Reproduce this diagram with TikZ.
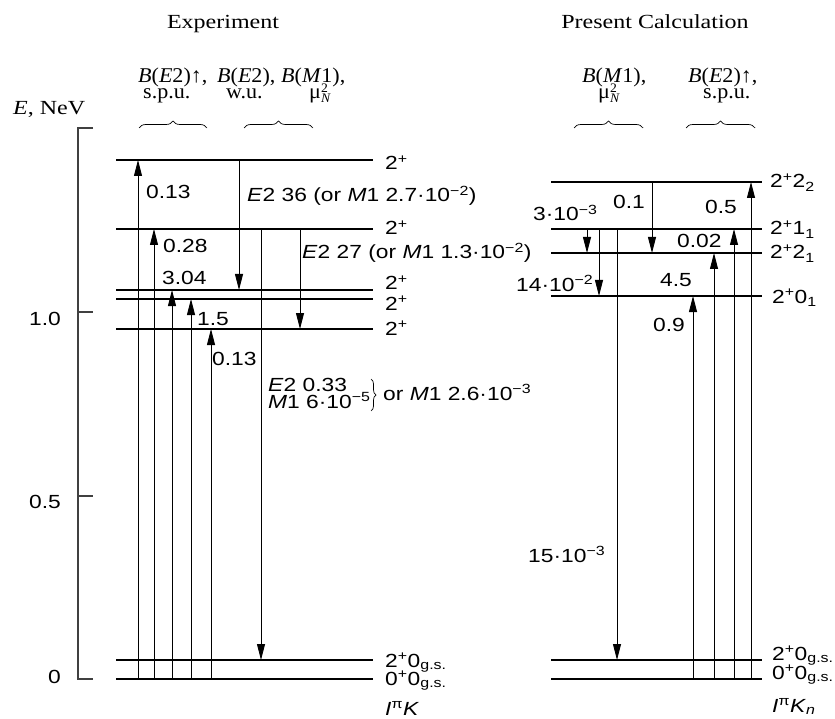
\documentclass[tikz,border=0pt]{standalone}
\usepackage{fontspec}
\setmainfont{Liberation Sans}[FakeStretch=1.2]
\newfontfamily\hdfont{Liberation Serif}[FakeStretch=1.05]
\newfontfamily\ttlfont{Liberation Serif}[FakeStretch=1.2]
\usetikzlibrary{arrows.meta,decorations.pathreplacing}
\colorlet{axisC}{black!75}
\newcommand{\up}[1]{\textsuperscript{#1}}
\newcommand{\dn}[1]{\textsubscript{#1}}
\newcommand{\numsize}{\fontsize{19}{22}\selectfont}
\newcommand{\hdsize}{\hdfont\fontsize{21}{24}\selectfont}
\newcommand{\ttlsize}{\ttlfont\fontsize{20}{23}\selectfont}
\newcommand{\muN}{μ\rlap{\raisebox{6pt}{\fontsize{13}{13}\selectfont 2}}%
  \raisebox{-4pt}{\fontsize{13}{13}\selectfont\itshape N}}

\begin{document}
\begin{tikzpicture}[x=1pt, y=-1pt,
    lvl/.style={line width=1.2pt},
    tr/.style={line width=0.9pt, -{Triangle[length=16pt,width=8pt]}},
    num/.style={font=\numsize, inner sep=0pt, anchor=base west},
    hd/.style={font=\hdsize, inner sep=0pt, anchor=base west},
    ttl/.style={font=\ttlsize, inner sep=0pt, anchor=base},
    brc/.style={decorate, decoration={brace, amplitude=7pt}, line width=0.7pt}]

  \useasboundingbox (0,0) rectangle (835,719);

  % Energy axis
  \draw[axisC, line width=1.2pt] (93,128) -- (78,128) -- (78,679) -- (93,679);
  \foreach \y in {312,496}
    \draw[axisC, line width=1.2pt] (78,\y) -- (93,\y);
  \node[ttl, anchor=base west] (axE) at (13,115) {\textit{E}, NeV};
  \node[num, anchor=base east] (ax1) at (61,325) {1.0};
  \node[num, anchor=base east] (ax5) at (61,508) {0.5};
  \node[num, anchor=base east] (ax0) at (61,683) {0};

  % Headings
  \node[ttl] (hExp) at (223,29) {Experiment};
  \node[ttl] (hCalc) at (655,29) {Present Calculation};

  \node[hd] (hA1) at (138,83) {\textit{B}(\textit{E}2)↑,};
  \node[hd] (hA2) at (143,99) {s.p.u.};
  \node[hd] (hB1) at (217,83) {\textit{B}(\textit{E}2),};
  \node[hd] (hB2) at (226,99) {w.u.};
  \node[hd] (hC1) at (281,83) {\textit{B}(\textit{M}1),};
  \node[hd] (hC2) at (309,99) {\muN};
  \node[hd] (hD1) at (582,83) {\textit{B}(\textit{M}1),};
  \node[hd] (hD2) at (598,99) {\muN};
  \node[hd] (hE1) at (688,83) {\textit{B}(\textit{E}2)↑,};
  \node[hd] (hE2) at (703,99) {s.p.u.};

  \draw[brc] (139,128) -- (207,128);
  \draw[brc] (244,128) -- (313,128);
  \draw[brc] (574,128) -- (643,128);
  \draw[brc] (686,128) -- (755,128);

  % Experiment levels
  \foreach \n/\y in {a/160, b/229, c/290, d/299, e/329, g/660, o/679} {
    \coordinate (X\n) at (116,\y);
    \draw[lvl] (X\n) -- +(257,0);
  }
  \node[num] (sXa) at (385,170) {2\up{+}};
  \node[num] (sXb) at (385,235) {2\up{+}};
  \node[num] (sXc) at (385,290) {2\up{+}};
  \node[num] (sXd) at (385,310) {2\up{+}};
  \node[num] (sXe) at (385,335) {2\up{+}};
  \node[num] (sXg) at (385,667) {2\up{+}0\dn{g.s.}};
  \node[num] (sXo) at (385,685) {0\up{+}0\dn{g.s.}};
  \node[num] (sX) at (385,715) {\textit{I}\up{π}\textit{K}};

  % Experiment transitions
  \foreach \x/\t in {138/a, 154/b, 172/c, 191/d, 211/e} {
    \coordinate (k\t) at (\x,0);
    \draw[tr] (k\t |- Xo) -- (k\t |- X\t);
  }
  \coordinate (kf) at (239,0);
  \coordinate (kg) at (261,0);
  \coordinate (kh) at (300,0);
  \draw[tr] (kf |- Xa) -- (kf |- Xc);
  \draw[tr] (kg |- Xb) -- (kg |- Xg);
  \draw[tr] (kh |- Xb) -- (kh |- Xe);

  \node[num] (vXa) at (146,199) {0.13};
  \node[num] (vXb) at (163,253) {0.28};
  \node[num] (vXc) at (162,285) {3.04};
  \node[num] (vXd) at (197,325) {1.5};
  \node[num] (vXe) at (212,365) {0.13};
  \node[num] (vXf) at (247,202) {\textit{E}2 36 (or \textit{M}1 2.7·10\up{−2})};
  \node[num] (vXh) at (302,259) {\textit{E}2 27 (or \textit{M}1 1.3·10\up{−2})};
  \node[num] (vXg1) at (268,391) {\textit{E}2 0.33};
  \node[num] (vXg2) at (268,408) {\textit{M}1 6·10\up{−5}};
  \draw[brc, decoration={amplitude=5pt}] (371,379) -- (371,411);
  \node[num] (vXg3) at (383,400) {or \textit{M}1 2.6·10\up{−3}};

  % Calculated levels
  \foreach \n/\y in {a/182, b/229, c/253, d/296, g/660, o/679} {
    \coordinate (Y\n) at (551,\y);
    \draw[lvl] (Y\n) -- +(211,0);
  }
  \node[num] (sYa) at (770,188) {2\up{+}2\dn{2}};
  \node[num] (sYb) at (770,235) {2\up{+}1\dn{1}};
  \node[num] (sYc) at (770,259) {2\up{+}2\dn{1}};
  \node[num] (sYd) at (772,303) {2\up{+}0\dn{1}};
  \node[num] (sYg) at (772,660) {2\up{+}0\dn{g.s.}};
  \node[num] (sYo) at (772,679) {0\up{+}0\dn{g.s.}};
  \node[num] (sY) at (772,712) {\textit{I}\up{π}\textit{K}\dn{\textit{n}}};

  % Calculated transitions
  \foreach \x/\t in {693/d, 714/c, 734/b, 751/a} {
    \coordinate (m\t) at (\x,0);
    \draw[tr] (m\t |- Yo) -- (m\t |- Y\t);
  }
  \coordinate (me) at (587,0);
  \coordinate (mf) at (599,0);
  \coordinate (mg) at (617,0);
  \coordinate (mh) at (652,0);
  \draw[tr] (me |- Yb) -- (me |- Yc);
  \draw[tr] (mf |- Yb) -- (mf |- Yd);
  \draw[tr] (mg |- Yb) -- (mg |- Yg);
  \draw[tr] (mh |- Ya) -- (mh |- Yc);

  \node[num] (vYe) at (533,221) {3·10\up{−3}};
  \node[num] (vYf) at (516,291) {14·10\up{−2}};
  \node[num] (vYg) at (528,562) {15·10\up{−3}};
  \node[num] (vYh) at (613,209) {0.1};
  \node[num] (vYa) at (705,214) {0.5};
  \node[num] (vYb) at (677,248) {0.02};
  \node[num] (vYc) at (660,287) {4.5};
  \node[num] (vYd) at (653,331) {0.9};
\end{tikzpicture}
\end{document}
